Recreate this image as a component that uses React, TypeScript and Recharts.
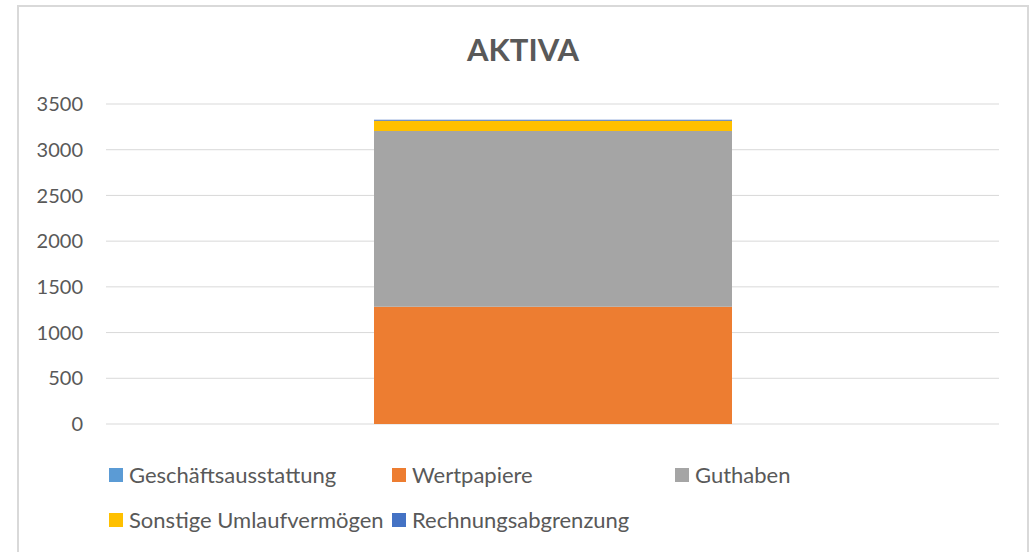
import React from 'react';
import { BarChart, Bar, XAxis, YAxis, CartesianGrid, Legend } from 'recharts';

const categories = ['Aktiva'];
const seriesNames = ['Geschäftsausstattung', 'Wertpapiere', 'Guthaben', 'Sonstige Umlaufvermögen', 'Rechnungsabgrenzung'];
const seriesValues = [0, 1283, 1922, 113, 10];
const seriesColors = ['#5B9BD5', '#ED7D31', '#A5A5A5', '#FFC000', '#4472C4'];
const yTicks = [0, 500, 1000, 1500, 2000, 2500, 3000, 3500];

const FONT = 'Lato, "Open Sans", sans-serif';
const TEXT = '#595959';

const chartData = categories.map(name => {
  const row: { [key: string]: string | number } = { name };
  seriesNames.forEach((s, i) => {
    row[s] = seriesValues[i];
  });
  return row;
});

// Excel-like legend: fixed columns, three items per row
const LegendBox = (props: any) => {
  const payload = (props.payload || []) as any[];
  const ordered = seriesNames.map(n => payload.find(p => p.value === n)).filter(Boolean);
  const rows = [ordered.slice(0, 3), ordered.slice(3)];
  return (
    <div style={{ paddingLeft: 109 }}>
      {rows.map((r, ri) => (
        <div key={ri} style={{ display: 'flex', height: 45, alignItems: 'center' }}>
          {r.map(p => (
            <div key={p.value} style={{ display: 'flex', alignItems: 'center', width: 283 }}>
              <span style={{ display: 'inline-block', width: 14, height: 14, background: p.color, marginRight: 6 }} />
              <span style={{ color: TEXT, fontSize: 22, fontFamily: FONT }}>{p.value}</span>
            </div>
          ))}
        </div>
      ))}
    </div>
  );
};

export default function App() {
  return (
    <div style={{ position: 'absolute', left: 0, top: 0, width: 1034, height: 552, overflow: 'hidden', background: '#fff' }}>
      <div style={{ position: 'absolute', left: 17, top: 5, width: 1008, height: 600, border: '2px solid #D9D9D9' }} />
      <div style={{ position: 'absolute', left: 18, top: 30, width: 1010, textAlign: 'center', fontFamily: FONT, fontWeight: 700, fontSize: 31, color: TEXT }}>
        AKTIVA
      </div>
      <div style={{ position: 'absolute', left: 0, top: 0 }}>
        <BarChart width={1034} height={552} data={chartData} margin={{ top: 104, right: 35, left: 26, bottom: 128 }}>
          <CartesianGrid vertical={false} stroke="#D9D9D9" />
          <XAxis dataKey="name" hide />
          <YAxis
            width={80}
            domain={[0, 3500]}
            ticks={yTicks}
            axisLine={false}
            tickLine={false}
            tickSize={0}
            tickMargin={23}
            tick={{ fill: TEXT, fontSize: 20, fontFamily: FONT }}
          />
          <Legend
            layout="horizontal"
            verticalAlign="middle"
            align="center"
            content={<LegendBox />}
            wrapperStyle={{ top: 452, left: 0, width: 1034 }}
          />
          {seriesNames.map((s, i) => (
            <Bar key={s} dataKey={s} stackId="a" fill={seriesColors[i]} barSize={358} isAnimationActive={false} />
          ))}
        </BarChart>
      </div>
    </div>
  );
}
